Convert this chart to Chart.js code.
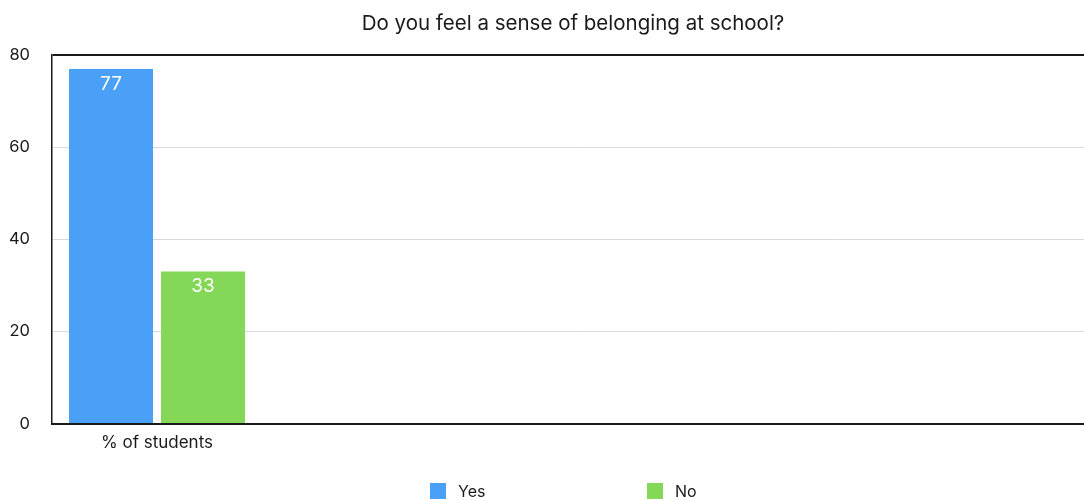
<!DOCTYPE html>
<html>
<head>
<meta charset="utf-8">
<script src="https://cdn.jsdelivr.net/npm/chart.js@4/dist/chart.umd.min.js"></script>
<style>
  html, body { margin: 0; padding: 0; background: #fff; }
  #wrap { position: relative; width: 1084px; height: 501px; overflow: hidden; }
  #box { position: absolute; left: 0; top: 0; width: 1146px; height: 501px; }
  #legend { position: absolute; top: 482px; left: 0; width: 1084px; height: 19px;
            font-family: Inter, "Liberation Sans", Arial, sans-serif; font-size: 16px; color: #1a1a1a; }
  #legend span { position: absolute; top: 0; line-height: 19px; }
  #legend i { position: absolute; top: 1px; width: 16px; height: 16px; }
</style>
</head>
<body>
<div id="wrap">
  <div id="box"><canvas id="chart"></canvas></div>
  <div id="legend"></div>
</div>
<script>
const TITLE = "Do you feel a sense of belonging at school?";
const categories = ["% of students", "", "", "", ""];
const seriesNames = ["Yes", "No"];
const yesValues = [77, null, null, null, null];
const noValues = [33, null, null, null, null];
const yTicks = [0, 20, 40, 60, 80];

const FONT = "Inter, 'Liberation Sans', Arial, sans-serif";
const INK = "#1a1a1a";
const COLORS = ["rgb(74,159,246)", "rgb(132,215,87)"];

/* white value labels inside the top of each bar */
const valueLabels = {
    id: "valueLabels",
    afterDatasetsDraw(chart) {
        const c = chart.ctx;
        c.save();
        c.fillStyle = "#fff";
        c.font = "19px " + FONT;
        c.textAlign = "center";
        c.textBaseline = "middle";
        chart.data.datasets.forEach((ds, i) => {
            chart.getDatasetMeta(i).data.forEach((bar, j) => {
                if (ds.data[j] == null) return;
                c.fillText(String(ds.data[j]), bar.x, bar.y + 15);
            });
        });
        c.restore();
    }
};

new Chart(document.getElementById("chart"), {
    type: "bar",
    data: {
        labels: categories,
        datasets: [
            { label: seriesNames[0], data: yesValues, backgroundColor: COLORS[0] },
            { label: seriesNames[1], data: noValues, backgroundColor: COLORS[1] }
        ]
    },
    options: {
        responsive: true, maintainAspectRatio: false, animation: false,
        categoryPercentage: 0.876, barPercentage: 0.913,
        layout: { padding: { left: 0, right: 0, top: 6, bottom: 39 } },
        plugins: {
            legend: { display: false },
            tooltip: { enabled: false },
            title: {
                display: true, text: TITLE, color: INK,
                font: { family: FONT, size: 20.5, weight: "normal" },
                padding: { top: 6, bottom: 18.5 }
            }
        },
        scales: {
            x: {
                grid: { display: false, drawTicks: false },
                border: { display: true, color: INK, width: 2 },
                ticks: { color: INK, font: { family: FONT, size: 17 }, padding: 9, maxRotation: 0, autoSkip: false }
            },
            y: {
                min: 0, max: 80,
                afterBuildTicks: axis => { axis.ticks = yTicks.map(v => ({ value: v })); },
                afterFit: axis => { axis.width = 52; },
                grid: {
                    drawTicks: false,
                    color: ctx => ctx.tick && ctx.tick.value === 80 ? INK : "#d9d9d9",
                    lineWidth: ctx => ctx.tick && ctx.tick.value === 80 ? 2 : 1
                },
                border: { display: true, color: INK, width: 1.5 },
                ticks: { color: INK, font: { family: FONT, size: 16.5 }, padding: 22 }
            },
            /* empty right-hand gutter, keeps the title centred on the full frame */
            yRight: {
                position: "right", min: 0, max: 80,
                afterFit: axis => { axis.width = 44; },
                grid: { display: false },
                border: { display: false },
                ticks: { display: false }
            }
        }
    },
    plugins: [valueLabels]
});

/* legend, spaced like the reference */
const legend = document.getElementById("legend");
const legendX = [430, 647];
seriesNames.forEach((name, i) => {
    const box = document.createElement("i");
    box.style.left = legendX[i] + "px";
    box.style.background = COLORS[i];
    const txt = document.createElement("span");
    txt.style.left = (legendX[i] + 28) + "px";
    txt.textContent = name;
    legend.appendChild(box);
    legend.appendChild(txt);
});
</script>
</body>
</html>
